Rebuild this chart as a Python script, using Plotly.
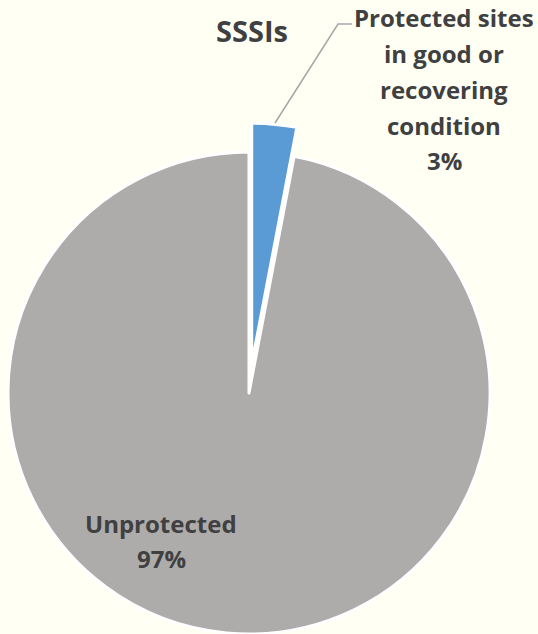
import math
import plotly.graph_objects as go

# Chart data
categories = ["Protected sites in good or recovering condition", "Unprotected"]
values = [3, 97]
colors = ["#5B9BD5", "#AEABAB"]
title_text = "SSSIs"

W, H = 538, 634
BG = "#FFFFF4"
TEXT = "#404040"
FONT = "Open Sans"

R = 241               # pie radius in px
CX, CY = 249, 393     # pie centre in px (from top-left)
PULL_PX = 29          # how far the small slice is pulled out


def px_x(x):
    return x / W


def px_y(y):
    return 1 - y / H


def domain_for(cx, cy):
    return dict(x=[px_x(cx - R), px_x(cx + R)],
                y=[max(0, 1 - (cy + R) / H), min(1, 1 - (cy - R) / H)])


# Mid-angle of the first slice (clockwise from 12 o'clock)
total = sum(values)
mid = math.radians(360 * values[0] / total / 2)
bx = CX + PULL_PX * math.sin(mid)
by = CY - PULL_PX * math.cos(mid)

fig = go.Figure()

# Main pie: only the large slice is visible
fig.add_trace(go.Pie(
    labels=categories, values=values, sort=False, direction="clockwise",
    rotation=0, textinfo="none", hoverinfo="label+percent",
    marker=dict(colors=["rgba(0,0,0,0)", colors[1]],
                line=dict(color=["rgba(0,0,0,0)", "white"], width=[0, 3])),
    domain=domain_for(CX, CY), showlegend=False,
))

# Exploded slice drawn as its own pie, shifted along its mid-angle
fig.add_trace(go.Pie(
    labels=categories, values=values, sort=False, direction="clockwise",
    rotation=0, textinfo="none", hoverinfo="label+percent",
    marker=dict(colors=[colors[0], "rgba(0,0,0,0)"],
                line=dict(color=["white", "rgba(0,0,0,0)"], width=[3, 0])),
    domain=domain_for(bx, by), showlegend=False,
))

annotations = []


def add_lines(lines, cx, y0, spacing, size):
    for i, line in enumerate(lines):
        annotations.append(dict(
            text=f"<b>{line}</b>", x=px_x(cx), y=px_y(y0 + i * spacing),
            xref="paper", yref="paper", xanchor="center", yanchor="middle",
            showarrow=False, font=dict(family=FONT, size=size, color=TEXT)))


pcts = [round(100 * v / total) for v in values]

# Title
add_lines([title_text], 252, 30, 0, 29)
# Small slice label (outside, with leader line)
add_lines(["Protected sites", "in good or", "recovering", "condition", f"{pcts[0]}%"],
          444, 17, 36, 24)
# Large slice label (inside)
add_lines([categories[1], f"{pcts[1]}%"], 161, 523, 35, 24)

fig.add_shape(type="path",
              path=f"M {px_x(352)} {px_y(24)} L {px_x(338)} {px_y(24)} L {px_x(275)} {px_y(123)}",
              xref="paper", yref="paper", line=dict(color="#A6A6A6", width=1.5))

fig.update_layout(
    width=W, height=H, margin=dict(l=0, r=0, t=0, b=0),
    paper_bgcolor=BG, plot_bgcolor=BG, annotations=annotations,
)

fig.write_html("out.html", config={"displayModeBar": False})
